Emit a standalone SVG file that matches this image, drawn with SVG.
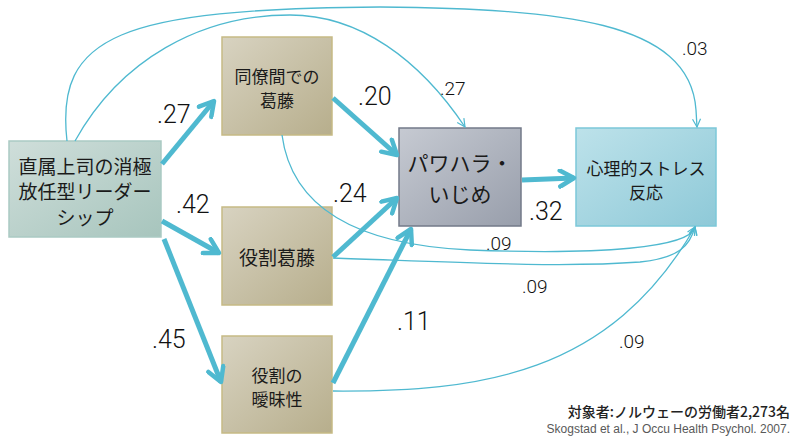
<svg xmlns="http://www.w3.org/2000/svg" width="800" height="445" viewBox="0 0 800 445">
<defs>
<linearGradient id="gLeft" x1="0" y1="0" x2="1" y2="1"><stop offset="0" stop-color="#cfdeda"/><stop offset="1" stop-color="#a7c5bd"/></linearGradient>
<linearGradient id="gMed" x1="0" y1="0" x2="1" y2="1"><stop offset="0" stop-color="#d8d3c1"/><stop offset="1" stop-color="#b7ae8c"/></linearGradient>
<linearGradient id="gPow" x1="0" y1="0" x2="1" y2="1"><stop offset="0" stop-color="#c6cad2"/><stop offset="1" stop-color="#989eab"/></linearGradient>
<linearGradient id="gStr" x1="0" y1="0" x2="1" y2="1"><stop offset="0" stop-color="#bde2ea"/><stop offset="1" stop-color="#8ec9d8"/></linearGradient>
<marker id="thick" viewBox="0 0 20 20" refX="17" refY="10" markerWidth="20" markerHeight="20" markerUnits="userSpaceOnUse" orient="auto">
<path d="M3,2 L17,10 L3,18" fill="none" stroke="#4fb9d0" stroke-width="4.5" stroke-linecap="round" stroke-linejoin="round"/>
</marker>
<marker id="thin" viewBox="0 0 10 10" refX="9" refY="5" markerWidth="10" markerHeight="10" markerUnits="userSpaceOnUse" orient="auto">
<path d="M1,1 L9,5 L1,9" fill="none" stroke="#4fb9d0" stroke-width="1.2"/>
</marker>
</defs>
<style>
.jp{font-family:"Noto Sans CJK JP","Noto Sans",sans-serif;fill:#1a1a1a;text-anchor:middle}
.num{font-family:Roboto,"Liberation Sans",Arial,sans-serif;font-weight:300;fill:#111}
.big{font-size:25px}
.sm{font-size:19px}
.thickA{fill:none;stroke:#4fb9d0;stroke-width:5;marker-end:url(#thick)}
.thinA{fill:none;stroke:#4fb9d0;stroke-width:1.3;marker-end:url(#thin)}
</style>
<rect width="800" height="445" fill="#ffffff"/>
<g id="node-leader">
<rect x="9" y="141" width="152" height="96" fill="url(#gLeft)" stroke="#aacac3" stroke-width="1.5"/>
<text class="jp" x="85" y="174" font-size="19">直属上司の消極</text>
<text class="jp" x="85" y="199" font-size="19">放任型リーダー</text>
<text class="jp" x="85" y="225" font-size="19">シップ</text>
</g>
<g id="node-coworker">
<rect x="222" y="37" width="110" height="98" fill="url(#gMed)" stroke="#c6ba85" stroke-width="1.5"/>
<text class="jp" x="277" y="83" font-size="17">同僚間での</text>
<text class="jp" x="277" y="107" font-size="17">葛藤</text>
</g>
<g id="node-roleconflict">
<rect x="222" y="207" width="110" height="98" fill="url(#gMed)" stroke="#c6ba85" stroke-width="1.5"/>
<text class="jp" x="277" y="265" font-size="19">役割葛藤</text>
</g>
<g id="node-roleambiguity">
<rect x="222" y="336" width="110" height="97" fill="url(#gMed)" stroke="#c6ba85" stroke-width="1.5"/>
<text class="jp" x="277" y="382" font-size="17">役割の</text>
<text class="jp" x="277" y="406" font-size="17">曖昧性</text>
</g>
<g id="node-harassment">
<rect x="399" y="128" width="122" height="98" fill="url(#gPow)" stroke="#737a89" stroke-width="1.5"/>
<text class="jp" x="460" y="171" font-size="21">パワハラ・</text>
<text class="jp" x="460" y="202" font-size="21">いじめ</text>
</g>
<g id="node-stress">
<rect x="576" y="128" width="140" height="98" fill="url(#gStr)" stroke="#7cc8d9" stroke-width="1.5"/>
<text class="jp" x="646" y="175" font-size="17">心理的ストレス</text>
<text class="jp" x="646" y="199" font-size="17">反応</text>
</g>
<g id="connectors">
<path class="thinA" d="M67,141 C55,35 120,9 380,7 C560,9 690,20 696,110 L697,127"/>
<path class="thinA" d="M75,141 C120,60 200,15 290,15 C360,15 420,60 465,127"/>
<path class="thinA" d="M282,135 C292,210 360,245 470,250 C600,255 690,248 695,227"/>
<path class="thinA" d="M333,258 C450,262 560,268 640,262 C680,258 690,245 695,227"/>
<path class="thinA" d="M333,391 C480,392 610,375 695,227"/>
<path class="thickA" d="M162,164 L214,101"/>
<path class="thickA" d="M162,221 L219,253"/>
<path class="thickA" d="M164,239 L221,382"/>
<path class="thickA" d="M333,98 L397,155"/>
<path class="thickA" d="M333,257 L397,198"/>
<path class="thickA" d="M333,383 L411,229"/>
<path class="thickA" d="M522,180 L574,178"/>
</g>
<g id="labels">
<text class="num big" x="157" y="123">.27</text>
<text class="num big" x="358" y="105">.20</text>
<text class="num sm" x="440" y="95">.27</text>
<text class="num sm" x="682" y="55">.03</text>
<text class="num big" x="176" y="213">.42</text>
<text class="num big" x="333" y="202">.24</text>
<text class="num big" x="529" y="220">.32</text>
<text class="num sm" x="486" y="250">.09</text>
<text class="num sm" x="522" y="293">.09</text>
<text class="num big" x="397" y="330">.11</text>
<text class="num big" x="152" y="348">.45</text>
<text class="num sm" x="619" y="348">.09</text>
</g>
<g id="footer">
<text x="790" y="417" font-family="Noto Sans CJK JP, Noto Sans, sans-serif" font-size="14" font-weight="500" fill="#222" text-anchor="end">対象者:ノルウェーの労働者2,273名</text>
<text x="790" y="433" font-family="Liberation Sans, Arial, sans-serif" font-size="12" fill="#595959" text-anchor="end">Skogstad et al., J Occu Health Psychol. 2007.</text>
</g>
</svg>
